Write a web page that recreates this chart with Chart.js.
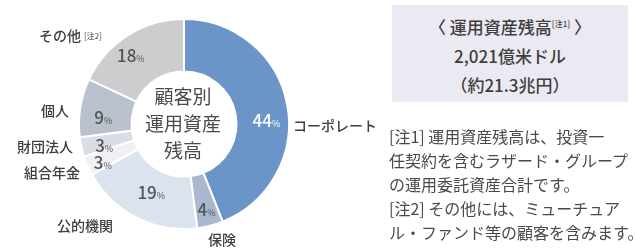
<!DOCTYPE html>
<html>
<head>
<meta charset="utf-8">
<script src="https://cdn.jsdelivr.net/npm/chart.js@4/dist/chart.umd.min.js"></script>
<style>
  html, body { margin: 0; padding: 0; background: #fff; }
  #wrap { position: relative; width: 636px; height: 250px; overflow: hidden; font-family: "Noto Sans CJK JP", sans-serif; color: #444; }
  #chartBox { position: absolute; left: 0; top: 0; width: 636px; height: 250px; }
  .box { position: absolute; left: 392px; top: 5px; width: 236px; height: 97px; background: #ebeaf3; text-align: center; font-size: 17px; font-weight: 500; line-height: 29px; padding-top: 4px; box-sizing: border-box; color: #3e3e3e; }
  .box sup { font-size: 8px; vertical-align: 7px; }
  .notes { position: absolute; left: 389px; top: 124px; width: 300px; font-size: 16px; line-height: 24px; white-space: nowrap; color: #4a4a4a; }
</style>
</head>
<body>
<div id="wrap">
  <div id="chartBox"><canvas id="clientChart"></canvas></div>
  <div class="box">
    〈 運用資産残高<sup>[注1]</sup> 〉<br>
    2,021億米ドル<br>
    （約21.3兆円）
  </div>
  <div class="notes">
    [注1] 運用資産残高は、投資一<br>
    任契約を含むラザード・グループ<br>
    の運用委託資産合計です。<br>
    [注2] その他には、ミューチュア<br>
    ル・ファンド等の顧客を含みます。
  </div>
</div>
<script>
// 顧客別 運用資産残高 (%)
const categories = ['コーポレート', '保険', '公的機関', '組合年金', '財団法人', '個人', 'その他'];
const shares = [44, 4, 19, 3, 3, 9, 18];
const centerLines = ['顧客別', '運用資産', '残高'];

const sliceColors = ['#6b95c9', '#aab8cf', '#dbe3ef', '#eef0f5', '#d9dde6', '#b9c1cd', '#cdcdd0'];
const pctColors = ['#ffffff', '#555', '#555', '#555', '#555', '#555', '#555'];
// small nudges for the in-ring percentage labels
const pctShift = [[5, 11], [3, 9], [3, -2], [-9, 7], [-3, 4], [-3, 6], [-11, -2]];
// outer category labels: x, y, align
const outerPos = [
    [293, 126, 'left'],
    [208, 240, 'left'],
    [57, 226, 'left'],
    [80, 173, 'right'],
    [73, 147, 'right'],
    [69, 111, 'right'],
    [81, 36, 'right']
];

const labelPlugin = {
    id: 'labelPlugin',
    afterDatasetsDraw(chart) {
        const ctx = chart.ctx;
        const arcs = chart.getDatasetMeta(0).data;
        ctx.save();
        ctx.textBaseline = 'middle';
        arcs.forEach((arc, i) => {
            const p = arc.getProps(['x', 'y', 'startAngle', 'endAngle', 'innerRadius', 'outerRadius'], true);
            const mid = (p.startAngle + p.endAngle) / 2;
            const r = (p.innerRadius + p.outerRadius) / 2;
            const lx = p.x + Math.cos(mid) * r + pctShift[i][0];
            const ly = p.y + Math.sin(mid) * r + pctShift[i][1];
            const num = String(shares[i]);
            ctx.font = '500 17px "Noto Sans CJK JP"';
            const w1 = ctx.measureText(num).width;
            ctx.font = '9px "Noto Sans CJK JP"';
            const w2 = ctx.measureText('%').width;
            const start = lx - (w1 + w2) / 2;
            ctx.fillStyle = pctColors[i];
            ctx.textAlign = 'left';
            ctx.font = '500 17px "Noto Sans CJK JP"';
            ctx.fillText(num, start, ly);
            ctx.font = '9px "Noto Sans CJK JP"';
            ctx.fillText('%', start + w1, ly + 3);

            // category label outside the ring
            ctx.fillStyle = '#3e3e3e';
            ctx.font = '500 14px "Noto Sans CJK JP"';
            ctx.textAlign = outerPos[i][2];
            ctx.fillText(categories[i], outerPos[i][0], outerPos[i][1]);
            if (i === 6) {
                ctx.font = '8px "Noto Sans CJK JP"';
                ctx.textAlign = 'left';
                ctx.fillText('[注2]', outerPos[i][0] + 3, outerPos[i][1]);
            }
        });
        // center title
        const c = arcs[0];
        ctx.fillStyle = '#4a4a4a';
        ctx.textAlign = 'center';
        ctx.font = '19px "Noto Sans CJK JP"';
        centerLines.forEach((t, k) => {
            ctx.fillText(t, c.x - 1, c.y - 27 + k * 27);
        });
        ctx.restore();
    }
};

new Chart(document.getElementById('clientChart').getContext('2d'), {
    type: 'doughnut',
    data: {
        labels: categories,
        datasets: [{
            data: shares,
            backgroundColor: sliceColors,
            borderColor: '#ffffff',
            borderWidth: 2
        }]
    },
    options: {
        responsive: true,
        maintainAspectRatio: false,
        animation: false,
        cutout: '50%',
        plugins: {
            legend: { display: false },
            tooltip: { enabled: false }
        },
        layout: {
            padding: { left: 78, top: 18, right: 346, bottom: 20 }
        }
    },
    plugins: [labelPlugin]
});
</script>
</body>
</html>
